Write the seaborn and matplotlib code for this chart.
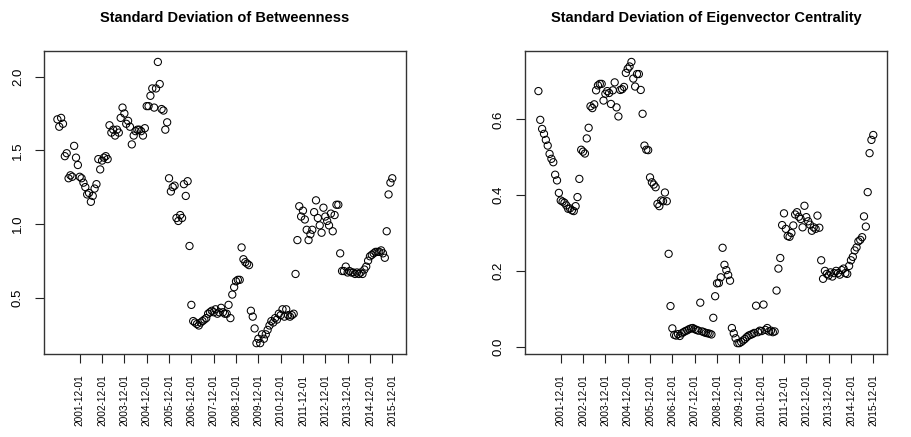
import numpy as np
import pandas as pd
import matplotlib
matplotlib.use('Agg')
import matplotlib.pyplot as plt
import seaborn as sns

# monthly observations, 2000-12-01 .. 2015-12-01
dates = pd.date_range('2000-12-01', '2015-12-01', freq='MS')

betweenness_sd = [
    1.71, 1.66, 1.72, 1.68, 1.46, 1.48, 1.31, 1.33, 1.32, 1.53, 1.45, 1.40,
    1.32, 1.31, 1.28, 1.25, 1.20, 1.21, 1.15, 1.19, 1.24, 1.27, 1.44, 1.37,
    1.43, 1.45, 1.46, 1.44, 1.67, 1.62, 1.64, 1.60, 1.64, 1.62, 1.72, 1.79,
    1.75, 1.68, 1.70, 1.66, 1.54, 1.60, 1.63, 1.64, 1.64, 1.63, 1.60, 1.65,
    1.80, 1.80, 1.87, 1.92, 1.79, 1.92, 2.10, 1.95, 1.78, 1.77, 1.64, 1.69,
    1.31, 1.22, 1.25, 1.26, 1.04, 1.02, 1.06, 1.04, 1.27, 1.19, 1.29, 0.85,
    0.45, 0.34, 0.33, 0.32, 0.31, 0.33, 0.34, 0.35, 0.36, 0.39, 0.40, 0.41,
    0.40, 0.42, 0.39, 0.40, 0.43, 0.40, 0.39, 0.39, 0.45, 0.36, 0.52, 0.57,
    0.61, 0.62, 0.62, 0.84, 0.76, 0.74, 0.73, 0.72, 0.41, 0.37, 0.29, 0.19,
    0.22, 0.19, 0.25, 0.22, 0.25, 0.28, 0.31, 0.34, 0.33, 0.36, 0.35, 0.39,
    0.38, 0.42, 0.37, 0.42, 0.38, 0.37, 0.38, 0.39,
    0.66, 0.89, 1.12, 1.05, 1.09, 1.03, 0.96, 0.89, 0.93, 0.96, 1.08, 1.16,
    1.04, 0.99, 0.94, 1.11, 1.05, 1.02, 0.99, 1.07, 0.95, 1.06, 1.13, 1.13,
    0.80, 0.68, 0.68, 0.71, 0.67, 0.68, 0.67, 0.67, 0.66, 0.67, 0.66, 0.67,
    0.66, 0.69, 0.71, 0.75, 0.78, 0.79, 0.80, 0.81, 0.81, 0.81, 0.82, 0.80,
    0.77, 0.95, 1.20, 1.28, 1.31,
]

eigenvector_sd = [
    0.675, 0.599, 0.575, 0.562, 0.546, 0.531, 0.509, 0.496, 0.487, 0.454, 0.439, 0.406,
    0.386, 0.383, 0.380, 0.373, 0.364, 0.365, 0.360, 0.358, 0.371, 0.395, 0.443, 0.520,
    0.515, 0.510, 0.550, 0.578, 0.635, 0.630, 0.640, 0.677, 0.690, 0.694, 0.694, 0.650,
    0.668, 0.675, 0.670, 0.641, 0.677, 0.698, 0.632, 0.608, 0.678, 0.680, 0.686, 0.723,
    0.734, 0.740, 0.752, 0.708, 0.687, 0.720, 0.720, 0.678, 0.615, 0.531, 0.520, 0.519,
    0.447, 0.434, 0.428, 0.421, 0.377, 0.371, 0.386, 0.384, 0.407, 0.384, 0.245, 0.107,
    0.048, 0.031, 0.029, 0.033, 0.028, 0.035, 0.038, 0.041, 0.043, 0.046, 0.048, 0.049,
    0.046, 0.044, 0.042, 0.116, 0.040, 0.038, 0.036, 0.035, 0.034, 0.032, 0.076, 0.133,
    0.167, 0.168, 0.183, 0.261, 0.216, 0.202, 0.189, 0.174, 0.049, 0.035, 0.022, 0.009,
    0.009, 0.012, 0.016, 0.020, 0.025, 0.029, 0.031, 0.033, 0.036, 0.108, 0.038, 0.042,
    0.041, 0.111, 0.044, 0.049, 0.040, 0.042, 0.038, 0.040, 0.148, 0.206, 0.234, 0.321,
    0.352, 0.311, 0.292, 0.290, 0.300, 0.320, 0.349, 0.355, 0.343, 0.337, 0.315, 0.372,
    0.342, 0.331, 0.322, 0.306, 0.315, 0.311, 0.346, 0.314, 0.228, 0.179, 0.200, 0.192,
    0.188, 0.196, 0.185, 0.194, 0.200, 0.194, 0.190, 0.202, 0.206, 0.194, 0.192, 0.213,
    0.228, 0.237, 0.254, 0.262, 0.278, 0.282, 0.289, 0.344, 0.317, 0.408, 0.511, 0.546,
    0.559,
]

titles = ['Standard Deviation of Betweenness', 'Standard Deviation of Eigenvector Centrality']
yticks = [[0.5, 1.0, 1.5, 2.0], [0.0, 0.2, 0.4, 0.6]]

sns.set_style('ticks')
plt.rcParams['font.family'] = ['Liberation Sans', 'DejaVu Sans']
plt.rcParams['text.color'] = 'black'
plt.rcParams['xtick.color'] = '#222222'
plt.rcParams['ytick.color'] = '#222222'
plt.rcParams['xtick.labelcolor'] = 'black'
plt.rcParams['ytick.labelcolor'] = 'black'

df = pd.DataFrame({'idx': np.arange(len(dates)), 'date': dates,
                   'betweenness': betweenness_sd, 'eigenvector': eigenvector_sd})

# December ticks, skipping the very first month
tick_idx = df.loc[(df['date'].dt.month == 12) & (df['idx'] > 0), 'idx'].values
tick_lab = df.loc[tick_idx, 'date'].dt.strftime('%Y-%m-%d').values

fig = plt.figure(figsize=(9.11, 4.37), dpi=100)
axes = [fig.add_axes([0.0483, 0.189, 0.397, 0.695]),
        fig.add_axes([0.5763, 0.189, 0.397, 0.695])]

for ax, col, title, yt in zip(axes, ['betweenness', 'eigenvector'], titles, yticks):
    sns.scatterplot(data=df, x='idx', y=col, ax=ax, marker='o', s=27,
                    facecolor='none', edgecolor='black', linewidth=0.75)
    n = len(df)
    ax.set_xlim(-0.04 * (n - 1), (n - 1) * 1.04)
    vals = df[col]
    rng = vals.max() - vals.min()
    ax.set_ylim(vals.min() - 0.04 * rng, vals.max() + 0.04 * rng)
    ax.set_xticks(tick_idx)
    ax.set_xticklabels(tick_lab, rotation=90, fontsize=7.3)
    ax.set_yticks(yt)
    ax.set_yticklabels(['%.1f' % v for v in yt], rotation=90, va='center', fontsize=9.5)
    ax.tick_params(direction='out', length=6.5, width=0.8, pad=8)
    for sp in ax.spines.values():
        sp.set_visible(True)
        sp.set_color('#333333')
        sp.set_linewidth(1.0)
    ax.set_xlabel('')
    ax.set_ylabel('')
    ax.set_title(title, fontsize=10.5, fontweight='bold', pad=21)

fig.savefig('out.png', dpi=100)
